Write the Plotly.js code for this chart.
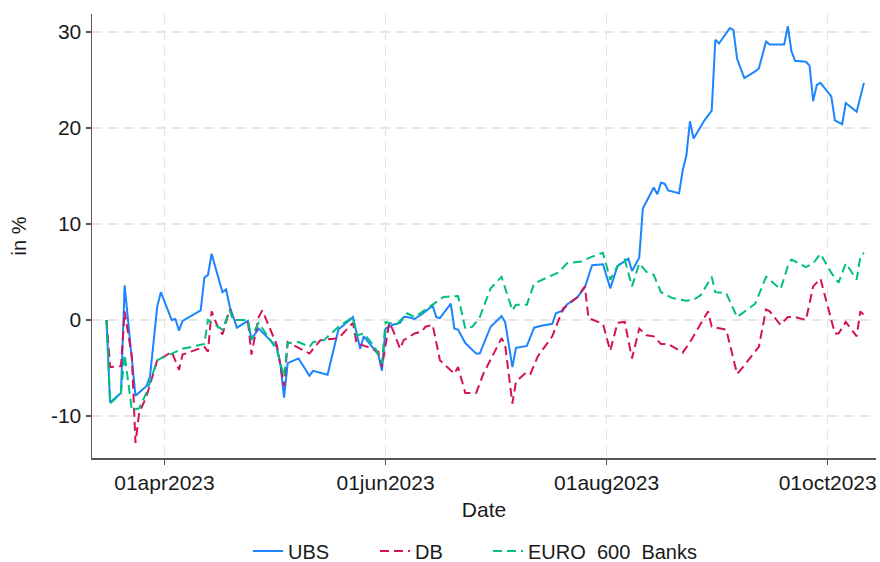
<!DOCTYPE html>
<html>
<head>
<meta charset="utf-8">
<script src="https://cdn.plot.ly/plotly-3.0.1.min.js"></script>
<style>
html,body{margin:0;padding:0;background:#fff;}
#chart{width:880px;height:562px;}
</style>
</head>
<body>
<div id="chart"></div>
<script>
// ---- Data ----
const ubsDates = ['2023-03-16','2023-03-17','2023-03-20','2023-03-21','2023-03-24','2023-03-27','2023-03-28','2023-03-30','2023-03-31',
'2023-04-03','2023-04-04','2023-04-05','2023-04-06','2023-04-11','2023-04-12','2023-04-13','2023-04-14','2023-04-17','2023-04-18','2023-04-19','2023-04-21','2023-04-24','2023-04-25','2023-04-26','2023-04-27',
'2023-05-02','2023-05-03','2023-05-04','2023-05-05','2023-05-08','2023-05-11','2023-05-12','2023-05-16','2023-05-19','2023-05-23','2023-05-25','2023-05-26','2023-05-30','2023-05-31',
'2023-06-01','2023-06-03','2023-06-05','2023-06-06','2023-06-07','2023-06-09','2023-06-11','2023-06-12','2023-06-14','2023-06-15','2023-06-16','2023-06-19','2023-06-20','2023-06-21','2023-06-23','2023-06-26','2023-06-27','2023-06-30',
'2023-07-03','2023-07-04','2023-07-06','2023-07-07','2023-07-10','2023-07-12','2023-07-14','2023-07-17','2023-07-18','2023-07-20','2023-07-21','2023-07-24','2023-07-26','2023-07-28','2023-07-31',
'2023-08-02','2023-08-04','2023-08-07','2023-08-08','2023-08-10','2023-08-11','2023-08-14','2023-08-15','2023-08-16','2023-08-17','2023-08-18','2023-08-21','2023-08-22','2023-08-23','2023-08-24','2023-08-25','2023-08-28','2023-08-30','2023-08-31',
'2023-09-01','2023-09-04','2023-09-05','2023-09-06','2023-09-08','2023-09-11','2023-09-12','2023-09-14','2023-09-15','2023-09-19','2023-09-20','2023-09-21','2023-09-22','2023-09-25','2023-09-26','2023-09-27','2023-09-28','2023-09-29',
'2023-10-02','2023-10-03','2023-10-05','2023-10-06','2023-10-09','2023-10-11'];
const ubsValues = [0,-8.6,-7.6,3.6,-7.9,-6.9,-5.9,1.4,2.9,
0,0.1,-1.1,-0.1,1.0,4.4,4.7,6.9,2.9,3.2,1.4,-0.8,-0.1,-2.0,-1.5,-0.9,
-2.8,-4.7,-8.1,-4.5,-4.0,-5.8,-5.3,-5.7,-1.0,0.3,-3.0,-1.7,-3.6,-5.3,
-0.9,-0.5,-0.3,0.3,0.3,0.1,0.6,0.9,1.5,0.3,0.2,1.7,-0.9,-1.0,-2.4,-3.5,-3.5,-0.7,
0.4,-0.2,-4.9,-2.9,-2.7,-0.8,-0.6,-0.4,0.7,1.0,1.6,2.4,3.4,5.7,5.8,
3.3,5.6,6.4,5.1,6.5,11.6,13.8,13.1,14.3,14.2,13.5,13.2,15.6,17.1,20.7,18.9,20.8,21.8,29.2,
28.8,30.4,30.2,27.2,25.2,25.9,26.2,29.0,28.7,28.7,30.6,28.0,27.0,26.9,26.5,22.8,24.5,24.7,
23.3,20.8,20.4,22.6,21.7,24.7];

const dbDates = ['2023-03-16','2023-03-17','2023-03-20','2023-03-21','2023-03-23','2023-03-24','2023-03-25','2023-03-27','2023-03-30',
'2023-04-01','2023-04-03','2023-04-05','2023-04-06','2023-04-12','2023-04-13','2023-04-14','2023-04-16','2023-04-17','2023-04-19','2023-04-20','2023-04-24','2023-04-25','2023-04-27','2023-04-28',
'2023-05-02','2023-05-04','2023-05-05','2023-05-08','2023-05-11','2023-05-14','2023-05-19','2023-05-23','2023-05-24','2023-05-27','2023-05-30','2023-05-31',
'2023-06-02','2023-06-03','2023-06-05','2023-06-06','2023-06-09','2023-06-11','2023-06-12','2023-06-14','2023-06-16','2023-06-18','2023-06-20','2023-06-21','2023-06-23','2023-06-26','2023-06-28',
'2023-07-03','2023-07-04','2023-07-06','2023-07-07','2023-07-10','2023-07-11','2023-07-13','2023-07-17','2023-07-20','2023-07-24','2023-07-26','2023-07-27','2023-07-31',
'2023-08-02','2023-08-04','2023-08-06','2023-08-08','2023-08-10','2023-08-12','2023-08-14','2023-08-16','2023-08-18','2023-08-22','2023-08-24','2023-08-29','2023-08-30',
'2023-09-03','2023-09-06','2023-09-07','2023-09-12','2023-09-14','2023-09-15','2023-09-18','2023-09-20','2023-09-22','2023-09-25','2023-09-27','2023-09-29',
'2023-10-03','2023-10-04','2023-10-06','2023-10-09','2023-10-10','2023-10-11'];
const dbValues = [0,-4.9,-4.8,0.9,-3.8,-12.8,-9.7,-8.0,-4.2,
-3.8,-3.3,-5.2,-3.6,-2.8,-3.3,0.9,-1.0,-1.5,1.1,0,0,-3.6,0.3,1.0,
-2.6,-6.9,-2.3,-2.9,-3.5,-2.1,-1.9,-0.3,-2.4,-2.8,-3.3,-4.9,
-0.3,-1.0,-3.0,-2.1,-1.4,-1.2,-0.7,-0.5,-4.2,-4.9,-5.6,-4.9,-7.6,-7.6,-5.6,
-1.9,-2.6,-8.7,-6.4,-5.4,-5.6,-3.8,-1.7,1.2,2.4,3.5,0.2,-0.4,
-3.2,-0.3,-0.2,-4.0,-0.9,-1.6,-1.7,-2.5,-2.5,-3.4,-2.3,0.9,-0.7,
-1.0,-5.6,-5.2,-2.8,1.1,0.9,-0.5,0.3,0.3,0,3.5,4.3,
-1.4,-1.4,-0.2,-1.7,0.9,0.5];

const euroDates = ['2023-03-16','2023-03-17','2023-03-20','2023-03-21','2023-03-23','2023-03-25','2023-03-27','2023-03-30','2023-03-31',
'2023-04-03','2023-04-06','2023-04-12','2023-04-13','2023-04-17','2023-04-19','2023-04-20','2023-04-24','2023-04-25','2023-04-26','2023-04-27',
'2023-05-02','2023-05-04','2023-05-05','2023-05-08','2023-05-11','2023-05-12','2023-05-15','2023-05-19','2023-05-23','2023-05-24','2023-05-26','2023-05-29','2023-05-31',
'2023-06-01','2023-06-04','2023-06-07','2023-06-09','2023-06-14','2023-06-17','2023-06-21','2023-06-23','2023-06-25','2023-06-27','2023-06-30',
'2023-07-03','2023-07-06','2023-07-07','2023-07-10','2023-07-12','2023-07-16','2023-07-19','2023-07-21','2023-07-25','2023-07-28','2023-07-31',
'2023-08-02','2023-08-04','2023-08-06','2023-08-08','2023-08-10','2023-08-12','2023-08-14','2023-08-16','2023-08-19','2023-08-23','2023-08-25','2023-08-27','2023-08-30','2023-08-31',
'2023-09-03','2023-09-06','2023-09-11','2023-09-14','2023-09-18','2023-09-20','2023-09-21','2023-09-25','2023-09-27','2023-09-29',
'2023-10-02','2023-10-04','2023-10-06','2023-10-09','2023-10-10','2023-10-11'];
const euroValues = [0,-8.7,-7.6,-3.6,-9.4,-9.2,-7.6,-4.2,-4.0,
-3.5,-3.0,-2.5,0,-1.0,1.0,0,0,-2.1,-1.0,-0.3,
-3.1,-5.9,-2.4,-2.3,-2.8,-2.3,-2.1,-0.7,0.3,-1.6,-1.4,-2.8,-4.5,
-0.2,-0.5,0.7,0.3,1.6,2.4,2.5,-0.9,-0.7,0.3,3.3,
4.5,1.0,1.6,1.6,3.8,4.5,5.0,5.9,6.1,6.6,7.0,
4.2,5.6,6.3,3.5,5.9,5.0,4.7,2.9,2.3,2.0,2.1,2.6,4.5,2.9,
2.8,0.3,1.7,4.5,3.2,5.6,6.3,5.5,5.9,6.9,
4.9,3.9,5.9,4.2,6.6,7.0];

const seriesNames = ['UBS', 'DB', 'EURO\u00a0\u00a0600\u00a0\u00a0Banks'];
const xTickVals = ['2023-04-01', '2023-06-01', '2023-08-01', '2023-10-01'];
const xTickLabels = ['01apr2023', '01jun2023', '01aug2023', '01oct2023'];
const yTickVals = [-10, 0, 10, 20, 30];
const yTickLabels = ['-10', '0', '10', '20', '30'];

// ---- Chart ----
const FONT = 'Arial, "Liberation Sans", sans-serif';
const TXT = '#1a1a1a';
const traces = [
  {x: ubsDates, y: ubsValues, name: seriesNames[0], type: 'scatter', mode: 'lines', legend: 'legend',
   line: {color: '#1a85ff', width: 2}},
  {x: dbDates, y: dbValues, name: seriesNames[1], type: 'scatter', mode: 'lines', legend: 'legend2',
   line: {color: '#d41159', width: 2, dash: '9px,5px'}},
  {x: euroDates, y: euroValues, name: seriesNames[2], type: 'scatter', mode: 'lines', legend: 'legend3',
   line: {color: '#00bf7f', width: 2, dash: '9px,5px'}}
];

function leg(textLeftPx) {
  return {orientation: 'h', x: (textLeftPx - 40 - 92) / 784, xanchor: 'left', xref: 'paper',
          y: -0.2095, yanchor: 'middle', bgcolor: 'rgba(0,0,0,0)', borderwidth: 0,
          font: {family: FONT, size: 20, color: TXT}};
}

const layout = {
  width: 880, height: 562,
  margin: {l: 92, r: 4, t: 14, b: 104, autoexpand: false},
  paper_bgcolor: '#ffffff', plot_bgcolor: '#ffffff',
  font: {family: FONT, size: 20, color: TXT},
  showlegend: true,
  legend: leg(288),
  legend2: leg(415),
  legend3: leg(528),
  xaxis: {
    type: 'date', automargin: false,
    range: ['2023-03-12', '2023-10-14 08:00'],
    tickmode: 'array', tickvals: xTickVals, ticktext: xTickLabels,
    ticks: 'outside', ticklen: 5, tickwidth: 1.3, tickcolor: '#555',
    showline: true, linecolor: '#555', linewidth: 1.5,
    showgrid: true, gridcolor: '#e6e6e6', gridwidth: 1.5, griddash: '10px,6px',
    zeroline: false,
    tickfont: {family: FONT, size: 21, color: TXT},
    title: {text: 'Date', font: {family: FONT, size: 21, color: TXT}, standoff: 9}
  },
  yaxis: {
    automargin: false,
    range: [-14.375, 31.875],
    tickmode: 'array', tickvals: yTickVals, ticktext: yTickLabels,
    ticks: 'outside', ticklen: 5, tickwidth: 1.3, tickcolor: '#555',
    showline: true, linecolor: '#555', linewidth: 1.5,
    showgrid: true, gridcolor: '#e6e6e6', gridwidth: 1.5, griddash: '10px,6px',
    zeroline: false,
    tickfont: {family: FONT, size: 21, color: TXT},
    title: {text: 'in %', font: {family: FONT, size: 20, color: TXT}, standoff: 19}
  }
};

Plotly.newPlot('chart', traces, layout, {displayModeBar: false, staticPlot: true});
</script>
</body>
</html>
